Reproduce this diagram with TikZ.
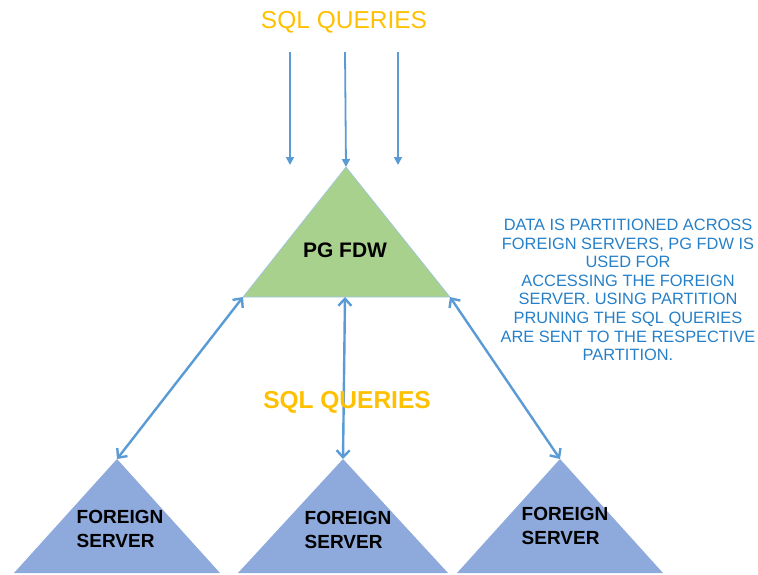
\documentclass[tikz,border=0pt]{standalone}
\usepackage{fontspec}
\setmainfont{Liberation Sans}
\usetikzlibrary{arrows.meta}

\definecolor{qorange}{HTML}{FFC000}
\definecolor{linkblue}{HTML}{5B9BD5}
\definecolor{notblue}{HTML}{2680C8}
\definecolor{fdwgreen}{HTML}{A9D18E}
\definecolor{srvblue}{HTML}{8EA9DB}

\tikzset{
  query/.style={line width=1.8pt, draw=linkblue, -{Triangle[length=8pt,width=8pt]}},
  link/.style={line width=2.4pt, draw=linkblue, {Straight Barb[length=7pt,width=13pt]}-{Straight Barb[length=7pt,width=13pt]}},
  srvlabel/.style={font=\fontsize{19}{23.5}\selectfont\bfseries, align=left, inner sep=0pt},
}

\begin{document}
\begin{tikzpicture}[x=1pt,y=-1pt]
\useasboundingbox (0,0) rectangle (758,574);

% front end
\coordinate (fdwtop) at (346,167);
\coordinate (fdwleft) at (243,297);
\coordinate (fdwright) at (450,297);
\coordinate (fdwmid) at (345,297);
\fill[fdwgreen, draw=linkblue!60, line width=0.6pt] (fdwtop) -- (fdwleft) -- (fdwright) -- cycle;
\node[font=\fontsize{21}{25}\selectfont\bfseries] (fdw) at (345,250) {PG FDW};

% incoming queries
\node[text=qorange, font=\fontsize{24.5}{28}\selectfont] (qtop) at (344,22) {SQL QUERIES};
\coordinate (qa) at (290,52);
\coordinate (qb) at (345,52);
\coordinate (qc) at (398,52);
\coordinate (qa2) at (290,165);
\coordinate (qc2) at (398,165);
\draw[query] (qa) -- (qa2);
\draw[query] (qb) -- (fdwtop);
\draw[query] (qc) -- (qc2);

% foreign servers
\coordinate (srvatop) at (117,459);
\coordinate (srvbtop) at (343,459);
\coordinate (srvctop) at (560,459);
\fill[srvblue] (srvatop) -- (14,573) -- (220,573) -- cycle;
\fill[srvblue] (srvbtop) -- (238,573) -- (448,573) -- cycle;
\fill[srvblue] (srvctop) -- (457,573) -- (663,573) -- cycle;
\node[srvlabel] (srva) at (120,529) {FOREIGN\\SERVER};
\node[srvlabel] (srvb) at (348,530) {FOREIGN\\SERVER};
\node[srvlabel] (srvc) at (565,526) {FOREIGN\\SERVER};

\draw[link] (fdwleft) -- (srvatop);
\draw[link] (fdwmid) -- (srvbtop);
\draw[link] (fdwright) -- (srvctop);

\node[text=qorange, font=\fontsize{24.5}{28}\selectfont\bfseries] (qmid) at (347,402) {SQL QUERIES};

% note
\node[text=notblue, font=\fontsize{16.4}{18.6}\selectfont, align=center] (note) at (628,290)
  {DATA IS PARTITIONED  ACROSS\\FOREIGN  SERVERS, PG FDW IS\\USED FOR\\ACCESSING THE FOREIGN\\SERVER. USING PARTITION\\PRUNING THE SQL QUERIES\\ARE SENT TO THE RESPECTIVE\\PARTITION.};
\end{tikzpicture}
\end{document}
